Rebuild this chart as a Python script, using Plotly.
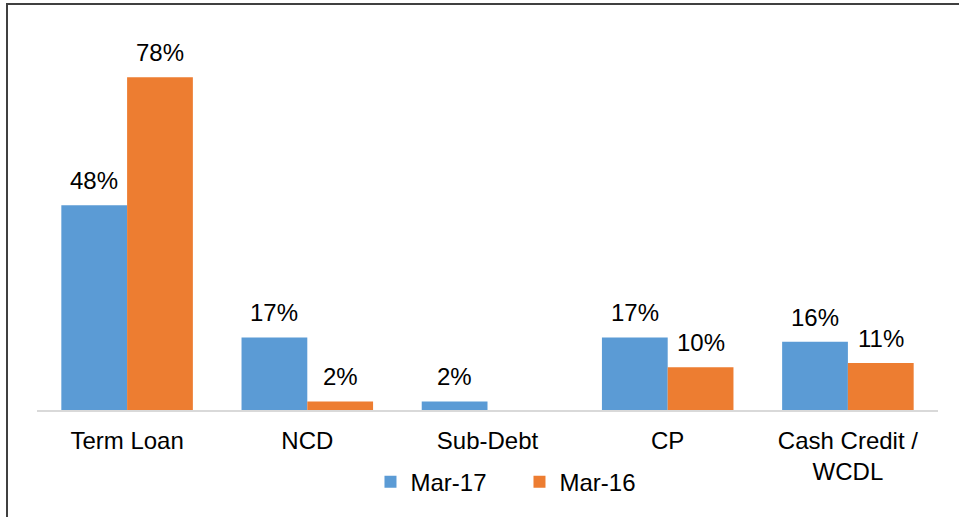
import plotly.graph_objects as go

categories = ["Term Loan", "NCD", "Sub-Debt", "CP", "Cash Credit /<br>WCDL"]
mar17 = [48, 17, 2, 17, 16]
mar16 = [78, 2, None, 10, 11]
series_names = ["Mar-17", "Mar-16"]
colors = ["#5B9BD5", "#ED7D31"]

FONT = "Liberation Sans, Arial, sans-serif"
FS = 24
bargap = 0.27
half = (1 - bargap) / 4.0

fig = go.Figure()
for name, vals, col in zip(series_names, [mar17, mar16], colors):
    fig.add_trace(go.Bar(x=categories, y=vals, name=name, marker=dict(color=col, line=dict(width=0))))

annotations = []
for k, vals in enumerate([mar17, mar16]):
    off = -half if k == 0 else half
    for i, v in enumerate(vals):
        if v is None:
            continue
        annotations.append(dict(x=i + off, y=v, xref="x", yref="y", text=f"{v}%",
                                showarrow=False, yanchor="bottom", yshift=9,
                                font=dict(family=FONT, size=FS, color="#000000")))

fig.update_layout(
    width=959, height=517,
    margin=dict(l=37, r=21, t=26, b=107),
    paper_bgcolor="white", plot_bgcolor="white",
    bargap=bargap, bargroupgap=0,
    barmode="group",
    font=dict(family=FONT, size=FS, color="#000000"),
    xaxis=dict(showline=True, linecolor="#D9D9D9", linewidth=2, ticks="",
               showgrid=False, tickfont=dict(size=FS, color="#000000"),
               ticklabelstandoff=8),
    yaxis=dict(range=[0, 90], visible=False, showgrid=False, zeroline=False),
    legend=dict(orientation="h", x=0.5355, xanchor="center", y=-0.188, yanchor="middle",
                font=dict(size=FS, color="#000000"), entrywidth=104, entrywidthmode="pixels"),
    annotations=annotations,
    shapes=[dict(type="rect", xref="paper", yref="paper",
                 x0=(7 - 37) / 901, x1=(975 - 37) / 901,
                 y0=(410 - 530) / 384, y1=(410 - 4) / 384,
                 line=dict(color="#404040", width=2), fillcolor="rgba(0,0,0,0)", layer="above")],
)

fig.write_html("out.html", config={"displayModeBar": False},
               post_script="document.body.style.margin='0px';")
